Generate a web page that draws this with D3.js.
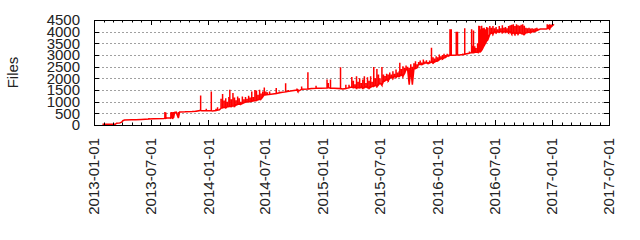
<!DOCTYPE html>
<meta charset="utf-8">
<style>
body { margin: 0; background: #fff; }
svg { display: block; }
text { font-family: "Liberation Sans", Arial, sans-serif; font-size: 15px; fill: #222; }
.grid line { stroke: #a0a0a0; stroke-width: 1; stroke-dasharray: 2,2; }
.frame { fill: none; stroke: #000; stroke-width: 1; }
.tick { stroke: #000; stroke-width: 1; }
.series { fill: none; stroke: #ff0000; stroke-width: 1.5; stroke-linejoin: miter; }
</style>
<body>
<script src="https://cdn.jsdelivr.net/npm/d3@7/dist/d3.min.js"></script>
<script>

// one record per reading day: lowest value (files) and highest value (peaks)
var dates = [
  "2013-01-28","2013-03-10","2013-03-14","2013-03-24","2013-03-30","2013-04-03","2013-04-08","2013-05-01",
  "2013-05-15","2013-06-01","2013-06-25","2013-07-10","2013-08-12","2013-08-15","2013-08-18","2013-08-22",
  "2013-09-03","2013-09-06","2013-09-09","2013-09-12","2013-09-15","2013-09-20","2013-09-27","2013-10-01",
  "2013-10-20","2013-11-10","2013-11-22","2013-12-04","2013-12-07","2013-12-10","2013-12-25","2014-01-10",
  "2014-01-13","2014-01-25","2014-01-30","2014-02-05",
  "2014-02-10","2014-02-15","2014-02-20","2014-02-25","2014-03-02","2014-03-07","2014-03-10","2014-03-15",
  "2014-03-20","2014-03-25","2014-03-30","2014-04-04","2014-04-09","2014-04-14","2014-04-19","2014-04-24",
  "2014-04-29","2014-05-04","2014-05-09","2014-05-14","2014-05-19","2014-05-24","2014-05-29","2014-06-03",
  "2014-06-08","2014-06-13","2014-06-18","2014-06-23","2014-06-28","2014-07-03","2014-07-08",
  "2014-07-15","2014-07-25","2014-08-05","2014-08-15","2014-08-25","2014-09-04","2014-09-12","2014-09-25",
  "2014-10-10","2014-10-13","2014-10-25","2014-11-14","2014-11-25","2014-12-10","2014-12-25","2015-01-14",
  "2015-01-18","2015-01-25","2015-02-05","2015-02-26","2015-03-05","2015-03-15","2015-03-25","2015-04-03",
  "2015-04-08","2015-04-13","2015-04-18","2015-04-23","2015-04-28","2015-05-03","2015-05-08","2015-05-13",
  "2015-05-18","2015-05-23","2015-05-28","2015-06-02","2015-06-07","2015-06-12","2015-06-17","2015-06-22",
  "2015-06-27","2015-07-02","2015-07-08","2015-07-13","2015-07-18","2015-07-23","2015-07-28","2015-08-02",
  "2015-08-07","2015-08-12","2015-08-17","2015-08-22","2015-08-27","2015-09-01","2015-09-03","2015-09-08",
  "2015-09-13","2015-09-18","2015-09-23","2015-09-28","2015-10-03","2015-10-08","2015-10-13","2015-10-18",
  "2015-10-23","2015-10-28","2015-11-02","2015-11-07","2015-11-12","2015-11-17","2015-11-22","2015-11-27",
  "2015-12-02","2015-12-07","2015-12-13","2015-12-18","2015-12-23","2015-12-28","2016-01-02","2016-01-07",
  "2016-01-12","2016-01-17","2016-01-22","2016-01-27","2016-02-01","2016-02-06","2016-02-10","2016-02-14",
  "2016-02-19","2016-02-24","2016-03-01","2016-03-05","2016-03-10","2016-03-16","2016-03-22","2016-03-28",
  "2016-04-02","2016-04-07","2016-04-12","2016-04-19","2016-04-22","2016-04-25","2016-04-29","2016-05-03",
  "2016-05-08","2016-05-12","2016-05-15","2016-05-19","2016-05-21","2016-05-25","2016-05-29","2016-06-02",
  "2016-06-06","2016-06-10","2016-06-16",
  "2016-06-21","2016-06-26","2016-07-01","2016-07-06","2016-07-11","2016-07-16","2016-07-21","2016-07-26",
  "2016-07-31","2016-08-05","2016-08-10","2016-08-15","2016-08-20","2016-08-25","2016-08-30","2016-09-04",
  "2016-09-09","2016-09-14","2016-09-19","2016-09-24","2016-09-29","2016-10-04","2016-10-09","2016-10-14",
  "2016-10-19","2016-10-24","2016-10-29","2016-11-03","2016-11-08","2016-11-13","2016-11-18","2016-11-24",
  "2016-12-14","2016-12-16","2016-12-20","2016-12-24","2016-12-28","2017-01-01","2017-01-05","2017-01-07"
];

var files = [
  30,30,80,90,120,185,210,225,
  230,240,255,265,280,290,290,300,
  300,320,300,330,540,550,300,560,
  570,580,590,620,620,610,610,615,
  605,620,640,650,
  720,730,760,740,780,790,800,790,
  820,800,850,880,900,890,920,950,
  980,1000,990,1005,1020,1035,1040,1050,
  1080,1100,1120,1200,1295,1290,1300,
  1310,1330,1350,1380,1400,1420,1440,1470,
  1500,1440,1530,1540,1560,1570,1570,1580,
  1600,1580,1580,1560,1540,1560,1600,1630,
  1600,1620,1580,1600,1590,1620,1580,1600,
  1640,1600,1580,1620,1650,1655,1700,1655,
  1720,1800,1700,1870,1900,1950,1900,2000,
  2050,2000,2085,2050,2100,2085,2100,2150,
  2085,2200,2375,2380,1725,2375,1725,2400,
  2420,2450,2590,2600,2590,2620,2650,2660,
  2640,2660,2700,2660,2700,2730,2750,2800,
  2850,2830,2880,2900,2950,2960,2990,2990,
  2990,2990,3000,3000,3000,3010,3020,3030,
  3050,3060,3080,3100,3100,3100,3110,3120,
  3110,3120,3150,3165,3200,3300,3400,3500,
  3600,3660,3885,
  3950,3900,4000,3950,4000,3980,4010,3960,
  4000,3980,4020,3950,4000,3900,3960,3885,
  3950,3900,3960,3920,3900,3885,3950,3960,
  3980,3960,4000,3990,4020,4050,4080,4110,
  4110,4130,4150,4130,4200,4250,4300,4300
];

var peaks = [
  30,30,80,110,120,185,210,225,
  260,240,300,265,280,560,540,300,
  550,560,550,560,540,550,560,560,
  600,580,620,650,1265,610,700,1440,
  605,700,765,650,
  1120,1325,1050,1150,1000,1200,1510,1100,
  1370,1180,1060,1220,1150,1000,1220,1100,
  1200,1120,1250,1180,1440,1200,1500,1480,
  1300,1510,1350,1440,1610,1440,1400,
  1440,1330,1585,1440,1400,1785,1500,1470,
  1560,1540,1655,2260,1560,1685,1570,1945,
  1800,1945,1580,2475,1540,1730,1730,2060,
  1900,1750,2085,1850,2000,1800,1950,2085,
  1800,2050,1900,2085,1850,2490,2000,2400,
  2160,2000,2490,2160,2100,2200,2160,2250,
  2160,2300,2200,2375,2250,2300,2665,2400,
  2520,2450,2550,2500,2450,2600,2500,2650,
  2735,2600,2700,2760,2680,2805,2720,2780,
  2700,2760,3310,2900,2850,2950,2900,3020,
  2950,3000,3050,3000,3050,3020,4100,4100,
  3020,3000,4000,4000,3030,3040,3060,4150,
  3080,3100,3150,4100,3400,4050,3380,3300,
  3500,4250,4240,4100,4250,4150,4170,4100,
  4200,4170,4240,
  4170,4240,4150,4200,4100,4240,4150,4270,
  4170,4200,4150,4240,4270,4300,4320,4240,
  4320,4270,4250,4300,4320,4250,4170,4150,
  4170,4140,4150,4130,4150,4170,4130,4110,
  4110,4320,4300,4320,4300,4320,4320,4300
];

var yTicks = [0, 500, 1000, 1500, 2000, 2500, 3000, 3500, 4000, 4500];

var width = 640,
    height = 240,
    margin = {top: 20, right: 31, bottom: 115, left: 94};

var parse = d3.utcParse("%Y-%m-%d");
var fmt = d3.utcFormat("%Y-%m-%d");

var svg = d3.select("body").append("svg")
    .attr("width", width)
    .attr("height", height);

var x = d3.scaleUtc()
    .domain([parse("2013-01-01"), parse("2017-07-01")])
    .range([margin.left, width - margin.right]);

var y = d3.scaleLinear()
    .domain([0, 4500])
    .range([height - margin.bottom, margin.top]);

var x0 = x.range()[0], x1 = x.range()[1],
    y0 = y.range()[0], y1 = y.range()[1];

// horizontal dotted grid
svg.append("g").attr("class", "grid")
  .selectAll("line")
  .data(yTicks.filter(function(d) { return d > 0 && d < 4500; }))
  .enter().append("line")
    .attr("x1", x0).attr("x2", x1)
    .attr("y1", function(d) { return Math.round(y(d)) + 0.5; })
    .attr("y2", function(d) { return Math.round(y(d)) + 0.5; });

// series: each day goes from its low up to its high and back
var pts = [];
dates.forEach(function(d, i) {
  var t = parse(d);
  pts.push([t, files[i]]);
  if (peaks[i] > files[i]) {
    pts.push([t, peaks[i]]);
    pts.push([t, files[i]]);
  }
});

var line = d3.line()
    .x(function(d) { return x(d[0]); })
    .y(function(d) { return y(d[1]); });

svg.append("path")
    .attr("class", "series")
    .attr("d", line(pts));

// ticks (mirrored on all four sides)
var ticks = svg.append("g");
var major = x.ticks(d3.utcMonth.every(6));
var minor = x.ticks(d3.utcMonth.every(1));

minor.forEach(function(t) {
  var len = major.some(function(m) { return +m === +t; }) ? 5 : 2.5;
  var px = Math.round(x(t)) + 0.5;
  ticks.append("line").attr("class", "tick")
    .attr("x1", px).attr("x2", px).attr("y1", y0).attr("y2", y0 - len);
  ticks.append("line").attr("class", "tick")
    .attr("x1", px).attr("x2", px).attr("y1", y1).attr("y2", y1 + len);
});

yTicks.forEach(function(v) {
  var py = Math.round(y(v)) + 0.5;
  ticks.append("line").attr("class", "tick")
    .attr("x1", x0).attr("x2", x0 + 5).attr("y1", py).attr("y2", py);
  ticks.append("line").attr("class", "tick")
    .attr("x1", x1).attr("x2", x1 - 5).attr("y1", py).attr("y2", py);
});

svg.append("rect")
    .attr("class", "frame")
    .attr("x", Math.round(x0) + 0.5)
    .attr("y", Math.round(y1) + 0.5)
    .attr("width", Math.round(x1) - Math.round(x0))
    .attr("height", Math.round(y0) - Math.round(y1));

// tick labels
svg.append("g").selectAll("text")
  .data(yTicks)
  .enter().append("text")
    .attr("x", x0 - 14)
    .attr("y", function(d) { return y(d); })
    .attr("dy", "0.35em")
    .attr("text-anchor", "end")
    .text(function(d) { return d; });

svg.append("g").selectAll("text")
  .data(major)
  .enter().append("text")
    .attr("transform", function(d) { return "translate(" + x(d) + "," + (y0 + 13) + ")rotate(-90)"; })
    .attr("dy", "0.35em")
    .attr("text-anchor", "end")
    .text(function(d) { return fmt(d); });

svg.append("text")
    .attr("transform", "translate(13," + ((y0 + y1) / 2) + ")rotate(-90)")
    .attr("dy", "0.35em")
    .attr("text-anchor", "middle")
    .text("Files");

</script>
</body>
